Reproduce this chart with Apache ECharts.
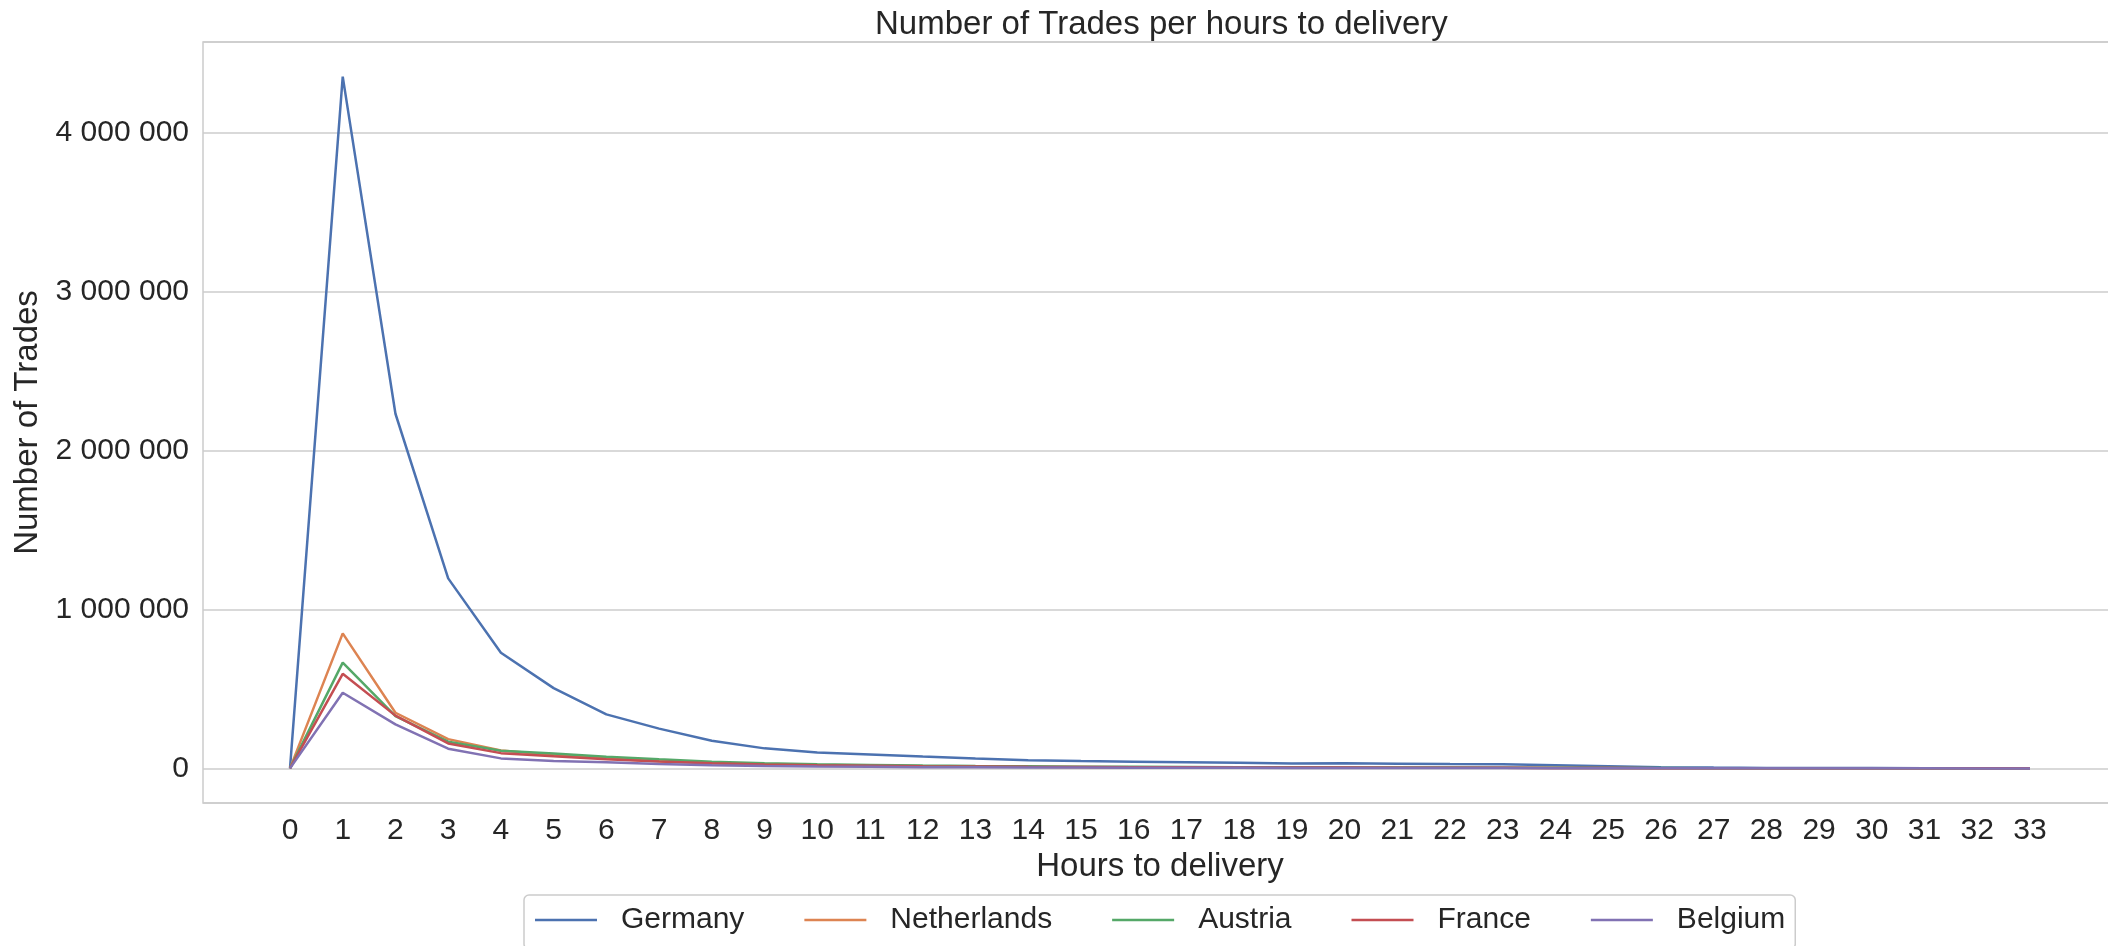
<!DOCTYPE html>
<html><head><meta charset="utf-8">
<script src="https://cdn.jsdelivr.net/npm/echarts@6/dist/echarts.min.js"></script>
<style>html,body{margin:0;padding:0;background:#fff}#c{width:2108px;height:946px}</style>
</head><body><div id="c"></div>
<script>
const hours = [0,1,2,3,4,5,6,7,8,9,10,11,12,13,14,15,16,17,18,19,20,21,22,23,24,25,26,27,28,29,30,31,32,33];
const germany = [0,4350000,2230000,1195000,727000,505000,340000,250000,174000,126000,100000,88000,75000,63000,52000,46000,42000,38000,35000,31000,32000,30000,27000,26000,20000,14000,8000,5000,3000,2000,2000,1000,1000,1000];
const netherlands = [0,849000,350000,184000,113000,84000,63000,45000,33000,25000,20000,17000,14000,12000,10000,9000,8000,7000,6000,6000,5000,5000,4000,4000,3000,2000,1500,1000,800,600,500,400,300,300];
const austria = [0,665000,329000,168000,111000,94000,73000,57000,42000,32000,26000,22000,18000,15000,13000,11000,10000,9000,8000,7000,6000,5500,5000,4500,3500,2500,1800,1200,900,700,500,400,300,300];
const france = [0,595000,332000,157000,96000,76000,57000,43000,33000,25000,20000,17000,14000,12000,10000,9000,8000,7000,6000,5000,5000,4500,4000,3500,3000,2000,1500,1000,800,600,500,400,300,300];
const belgium = [0,476000,277000,124000,63000,46000,38000,28000,20000,15000,12000,10000,8000,7000,6000,5000,4500,4000,3500,3000,3000,2500,2500,2000,1500,1200,900,700,500,400,300,300,200,200];
const seriesNames = ['Germany','Netherlands','Austria','France','Belgium'];
const seriesValues = [germany, netherlands, austria, france, belgium];
const colors = ['#4c72b0','#dd8452','#55a868','#c44e52','#8172b3'];

const allMax = Math.max(...seriesValues.map(s => Math.max(...s)));
const pad = allMax * 0.05;
const xPad = (hours[hours.length-1] - hours[0]) * 0.05;
const textColor = '#262626';
const fmt = v => Math.round(v).toString().replace(/\B(?=(\d{3})+(?!\d))/g, ' ');

const chart = echarts.init(document.getElementById('c'), null, {renderer:'canvas'});
chart.setOption({
  animation: false,
  backgroundColor: '#ffffff',
  title: {
    text: 'Number of Trades per hours to delivery',
    left: 870, top: 3,
    textStyle: {fontFamily: 'Liberation Sans', fontSize: 33, fontWeight: 'normal', color: textColor}
  },
  grid: {left: 203, right: -9, top: 42, bottom: 143, show: true, borderColor: '#cccccc', borderWidth: 1.5, containLabel: false, outerBoundsMode: 'none'},
  legend: {
    data: seriesNames,
    left: 524, top: 895,
    orient: 'horizontal',
    icon: 'rect',
    itemWidth: 62, itemHeight: 2.5,
    itemGap: 60,
    padding: [10, 10, 14, 11],
    borderColor: '#cccccc', borderWidth: 1.5, borderRadius: 5,
    backgroundColor: '#ffffff',
    textStyle: {fontFamily: 'Liberation Sans', fontSize: 30, color: textColor, padding: [0, 0, 0, 19]}
  },
  xAxis: {
    type: 'value',
    min: hours[0] - xPad, max: hours[hours.length-1] + xPad,
    minInterval: 1, maxInterval: 1,
    name: 'Hours to delivery', nameLocation: 'middle', nameGap: 43,
    nameTextStyle: {fontFamily: 'Liberation Sans', fontSize: 33, color: textColor},
    axisLine: {show: false}, axisTick: {show: false}, splitLine: {show: false},
    axisLabel: {
      showMinLabel: false, showMaxLabel: false, margin: 13,
      fontFamily: 'Liberation Sans', fontSize: 30, color: textColor,
      formatter: v => (v >= hours[0] && v <= hours[hours.length-1] && Number.isInteger(v)) ? String(v) : ''
    }
  },
  yAxis: {
    type: 'value',
    min: -pad, max: allMax + pad,
    name: 'Number of Trades', nameLocation: 'middle', nameGap: 150, nameRotate: 90,
    nameTextStyle: {fontFamily: 'Liberation Sans', fontSize: 33, color: textColor},
    axisLine: {show: false}, axisTick: {show: false},
    splitLine: {show: true, lineStyle: {color: '#cccccc', width: 1.5}},
    axisLabel: {
      showMinLabel: false, showMaxLabel: false, margin: 14,
      fontFamily: 'Liberation Sans', fontSize: 30, color: textColor,
      formatter: v => fmt(v)
    }
  },
  series: seriesNames.map((n, i) => ({
    name: n, type: 'line',
    data: hours.map((h, j) => [h, seriesValues[i][j]]),
    symbol: 'none', showSymbol: false,
    lineStyle: {color: colors[i], width: 2.5},
    itemStyle: {color: colors[i]}
  }))
});
</script>
</body></html>
